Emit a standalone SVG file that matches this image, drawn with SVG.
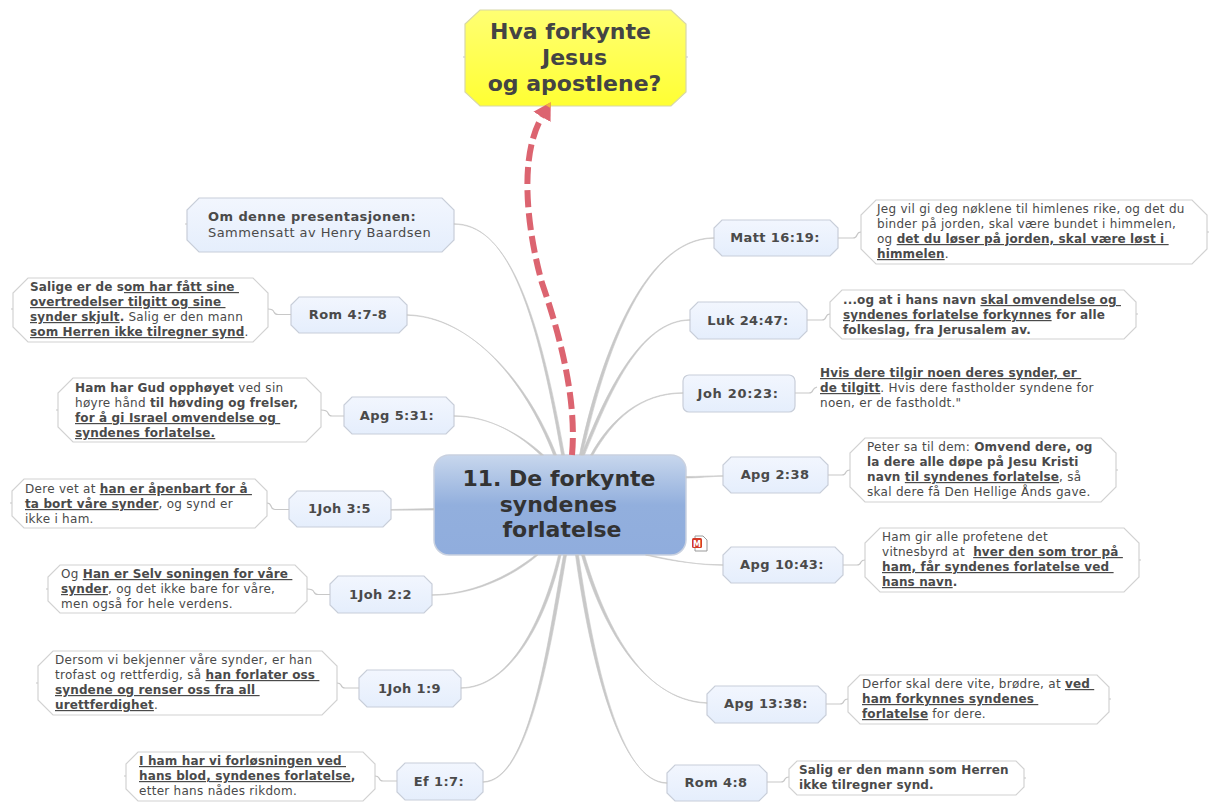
<svg xmlns="http://www.w3.org/2000/svg" width="1217" height="811" viewBox="0 0 1217 811">
<style>
text{font-family:"DejaVu Sans",Verdana,sans-serif;white-space:pre;fill:#4a4a4a}
.n{font-size:12px;letter-spacing:.28px}
.o{font-size:13px;letter-spacing:.43px}
.b{font-weight:700;letter-spacing:.13px}
.o .b{letter-spacing:.42px}
.u{font-weight:700;text-decoration:underline;letter-spacing:.13px}
.l{font-size:13px;font-weight:700;text-anchor:middle;letter-spacing:.4px}
.h{font-size:22px;font-weight:700;text-anchor:middle;fill:#333}
.y{fill:#444}
.topic{fill:url(#gt);stroke:#c8ced9;stroke-width:1.2}
.note{fill:#fff;stroke:#d2d2d2;stroke-width:1.2}
.c{fill:#c8c8c8;stroke:#c8c8c8;stroke-width:.6}
.s{fill:none;stroke:#c8c8c8;stroke-width:1.2}
</style>
<defs>
<linearGradient id="gt" x1="0" y1="0" x2="0" y2="1"><stop offset="0" stop-color="#f2f6fe"/><stop offset="1" stop-color="#e5eefc"/></linearGradient>
<linearGradient id="gc" x1="0" y1="0" x2="0" y2="1"><stop offset="0" stop-color="#c8d7ed"/><stop offset=".5" stop-color="#92afdd"/><stop offset="1" stop-color="#90addd"/></linearGradient>
<linearGradient id="gy" x1="0" y1="0" x2="0" y2="1"><stop offset="0" stop-color="#ffff73"/><stop offset="1" stop-color="#ffff33"/></linearGradient>
<marker id="ah" markerUnits="userSpaceOnUse" markerWidth="20" markerHeight="24" refX="1" refY="12" orient="auto"><polygon points="0,2 17,12 0,22" fill="#dc6470"/><polygon points="12,9.2 17,12 12,14.8" fill="#f2b23e"/></marker>
</defs>
<g id="node-title"><polygon points="480,10 671,10 686,24 686,92 671,106 480,106 465,92 465,24" fill="url(#gy)" stroke="#d8d8a8" stroke-width="1.2"/>
<path class="s" d="M463,57h2M686,57h2"/>
<text class="h y" x="570.5" y="39">Hva forkynte</text><text class="h y" x="574.5" y="65">Jesus</text><text class="h y" x="574.5" y="91">og apostlene?</text></g>
<g id="node-center"><rect x="434" y="455" width="252" height="100" rx="15" fill="url(#gc)" stroke="#c9d1e0" stroke-width="1.5"/>
<text class="h" x="559" y="486">11. De forkynte</text><text class="h" x="558.5" y="512">syndenes</text><text class="h" x="562" y="537">forlatelse</text></g>
<g id="icon"><polygon points="695,536 703,536 707,540 707,551 695,551" fill="#fff" stroke="#999"/><rect x="692" y="538" width="10" height="10" rx="1.5" fill="#d43a28"/><text x="697" y="546.5" font-size="8" font-weight="700" text-anchor="middle" style="fill:#fff">M</text></g>
<g id="node-om"><polygon class="topic" points="199,198 442,198 454,210 454,240 442,252 199,252 187,240 187,210"/><path class="s" d="M185,224h2"/>
<text class="o" x="208" y="221"><tspan class="b">Om denne presentasjonen:</tspan></text><text class="o" x="208" y="237">Sammensatt av Henry Baardsen</text></g>
<g id="node-rom478"><polygon class="topic" points="299,297 399,297 407,305 407,325 399,333 299,333 291,325 291,305"/><text class="l" x="348" y="319">Rom 4:7-8</text></g>
<g id="note-rom478"><polygon class="note" points="28,278 253,278 268,293 268,327 253,342 28,342 13,327 13,293"/><path class="s" d="M11,309h2"/>
<text class="n" x="30" y="291"><tspan class="b">Salige er de s</tspan><tspan class="u">om har fått sine </tspan></text>
<text class="n" x="30" y="306"><tspan class="u">overtredelser tilgitt og sine </tspan></text>
<text class="n" x="30" y="321"><tspan class="u">synder skjult</tspan><tspan class="b">.</tspan> Salig er den mann</text>
<text class="n" x="30" y="336"><tspan class="u">som Herren ikke tilregner synd</tspan>.</text></g>
<g id="node-apg531"><polygon class="topic" points="352,397 446,397 454,405 454,426 446,434 352,434 344,426 344,405"/><text class="l" x="397" y="420">Apg 5:31:</text></g>
<g id="note-apg531"><polygon class="note" points="73,378 306,378 321,393 321,427 306,442 73,442 58,427 58,393"/><path class="s" d="M56,410h2"/>
<text class="n" x="75" y="392"><tspan class="b">Ham har Gud opphøyet</tspan> ved sin</text>
<text class="n" x="75" y="407">høyre hånd <tspan class="b">til høvding og frelser,</tspan></text>
<text class="n" x="75" y="422"><tspan class="u">for å gi Israel omvendelse og </tspan></text>
<text class="n" x="75" y="437"><tspan class="u">syndenes forlatelse.</tspan></text></g>
<g id="node-1joh35"><polygon class="topic" points="297,491 383,491 391,499 391,519 383,527 297,527 289,519 289,499"/><text class="l" x="339.5" y="513">1Joh 3:5</text></g>
<g id="note-1joh35"><polygon class="note" points="24,479 255,479 267,491 267,516 255,528 24,528 12,516 12,491"/><path class="s" d="M10,503h2"/>
<text class="n" x="25" y="493">Dere vet at <tspan class="u">han er åpenbart for å </tspan></text>
<text class="n" x="25" y="508"><tspan class="u">ta bort våre synder</tspan>, og synd er</text>
<text class="n" x="25" y="523">ikke i ham.</text></g>
<g id="node-1joh22"><polygon class="topic" points="338,576 424,576 432,584 432,605 424,613 338,613 330,605 330,584"/><text class="l" x="380.5" y="599">1Joh 2:2</text></g>
<g id="note-1joh22"><polygon class="note" points="60,565 295,565 307,577 307,601 295,613 60,613 48,601 48,577"/><path class="s" d="M46,589h2"/>
<text class="n" x="61" y="578">Og <tspan class="u">Han er Selv soningen for våre </tspan></text>
<text class="n" x="61" y="593"><tspan class="u">synder</tspan>, og det ikke bare for våre,</text>
<text class="n" x="61" y="608">men også for hele verdens.</text></g>
<g id="node-1joh19"><polygon class="topic" points="367,670 453,670 461,678 461,699 453,707 367,707 359,699 359,678"/><text class="l" x="409.5" y="693">1Joh 1:9</text></g>
<g id="note-1joh19"><polygon class="note" points="53,651 322,651 337,666 337,700 322,715 53,715 38,700 38,666"/><path class="s" d="M36,683h2"/>
<text class="n" x="55" y="664">Dersom vi bekjenner våre synder, er han</text>
<text class="n" x="55" y="679">trofast og rettferdig, så <tspan class="u">han forlater oss </tspan></text>
<text class="n" x="55" y="694"><tspan class="u">syndene og renser oss fra all </tspan></text>
<text class="n" x="55" y="709"><tspan class="u">urettferdighet</tspan>.</text></g>
<g id="node-ef17"><polygon class="topic" points="405,763 475,763 483,771 483,792 475,800 405,800 397,792 397,771"/><text class="l" x="439" y="786">Ef 1:7:</text></g>
<g id="note-ef17"><polygon class="note" points="138,752 363,752 375,764 375,789 363,801 138,801 126,789 126,764"/><path class="s" d="M124,776h2"/>
<text class="n" x="139" y="765"><tspan class="u">I ham har vi forløsningen ved </tspan></text>
<text class="n" x="139" y="780"><tspan class="u">hans blod, syndenes forlatelse</tspan><tspan class="b">,</tspan></text>
<text class="n" x="139" y="795">etter hans nådes rikdom.</text></g>
<g id="node-matt"><polygon class="topic" points="722,220 830,220 838,228 838,248 830,256 722,256 714,248 714,228"/><text class="l" x="775" y="242">Matt 16:19:</text></g>
<g id="note-matt"><polygon class="note" points="876,200 1192,200 1207,215 1207,249 1192,264 876,264 861,249 861,215"/><path class="s" d="M1207,232h2"/>
<text class="n" x="877" y="213">Jeg vil gi deg nøklene til himlenes rike, og det du</text>
<text class="n" x="877" y="228">binder på jorden, skal være bundet i himmelen,</text>
<text class="n" x="877" y="243">og <tspan class="u">det du løser på jorden, skal være løst i </tspan></text>
<text class="n" x="877" y="258"><tspan class="u">himmelen</tspan>.</text></g>
<g id="node-luk"><polygon class="topic" points="698,302 799,302 807,310 807,331 799,339 698,339 690,331 690,310"/><text class="l" x="748" y="325">Luk 24:47:</text></g>
<g id="note-luk"><polygon class="note" points="842,290 1124,290 1136,302 1136,327 1124,339 842,339 830,327 830,302"/><path class="s" d="M1136,314h2"/>
<text class="n" x="843" y="304"><tspan class="b">...og at i hans navn </tspan><tspan class="u">skal omvendelse og </tspan></text>
<text class="n" x="843" y="319"><tspan class="u">syndenes forlatelse forkynnes</tspan><tspan class="b"> for alle</tspan></text>
<text class="n" x="843" y="334"><tspan class="b">folkeslag, fra Jerusalem av.</tspan></text></g>
<g id="node-joh"><rect class="topic" x="683" y="375" width="112" height="37" rx="6"/><text class="l" x="738" y="398" style="letter-spacing:.7px">Joh 20:23:</text></g>
<g id="note-joh"><text class="n" x="820" y="377"><tspan class="u">Hvis dere tilgir noen deres synder, er </tspan></text>
<text class="n" x="820" y="392"><tspan class="u">de tilgitt</tspan>. Hvis dere fastholder syndene for</text>
<text class="n" x="820" y="407">noen, er de fastholdt."</text></g>
<g id="node-apg238"><polygon class="topic" points="731,457 820,457 828,465 828,485 820,493 731,493 723,485 723,465"/><text class="l" x="775" y="479">Apg 2:38</text></g>
<g id="note-apg238"><polygon class="note" points="865,438 1101,438 1116,453 1116,487 1101,502 865,502 850,487 850,453"/><path class="s" d="M1116,470h2"/>
<text class="n" x="867" y="451">Peter sa til dem: <tspan class="b">Omvend dere, og</tspan></text>
<text class="n" x="867" y="466"><tspan class="b">la dere alle døpe på Jesu Kristi</tspan></text>
<text class="n" x="867" y="481"><tspan class="b">navn </tspan><tspan class="u">til syndenes forlatelse</tspan>, så</text>
<text class="n" x="867" y="496">skal dere få Den Hellige Ånds gave.</text></g>
<g id="node-apg1043"><polygon class="topic" points="731,547 835,547 843,555 843,575 835,583 731,583 723,575 723,555"/><text class="l" x="782" y="569">Apg 10:43:</text></g>
<g id="note-apg1043"><polygon class="note" points="880,528 1124,528 1139,543 1139,577 1124,592 880,592 865,577 865,543"/><path class="s" d="M1139,560h2"/>
<text class="n" x="882" y="541">Ham gir alle profetene det</text>
<text class="n" x="882" y="556">vitnesbyrd at  <tspan class="u">hver den som tror på </tspan></text>
<text class="n" x="882" y="571"><tspan class="u">ham, får syndenes forlatelse ved </tspan></text>
<text class="n" x="882" y="586"><tspan class="u">hans navn</tspan><tspan class="b">.</tspan></text></g>
<g id="node-apg1338"><polygon class="topic" points="715,686 818,686 826,694 826,715 818,723 715,723 707,715 707,694"/><text class="l" x="766" y="708">Apg 13:38:</text></g>
<g id="note-apg1338"><polygon class="note" points="860,675 1097,675 1109,687 1109,712 1097,724 860,724 848,712 848,687"/><path class="s" d="M1109,699h2"/>
<text class="n" x="862" y="688">Derfor skal dere vite, brødre, at <tspan class="u">ved </tspan></text>
<text class="n" x="862" y="703"><tspan class="u">ham forkynnes syndenes </tspan></text>
<text class="n" x="862" y="718"><tspan class="u">forlatelse</tspan> for dere.</text></g>
<g id="node-rom48"><polygon class="topic" points="675,765 759,765 767,773 767,793 759,801 675,801 667,793 667,773"/><text class="l" x="716" y="787">Rom 4:8</text></g>
<g id="note-rom48"><polygon class="note" points="797,761 1016,761 1024,769 1024,787 1016,795 797,795 789,787 789,769"/><path class="s" d="M1024,778h2"/>
<text class="n" x="799" y="774"><tspan class="b">Salig er den mann som Herren</tspan></text>
<text class="n" x="799" y="789"><tspan class="b">ikke tilregner synd.</tspan></text></g>
<g id="connectors">
<path class="c" d="M454,223.7C505,223.7 535,300 561.5,455L564.5,455C537,300 505,224.3 454,224.3Z"/>
<path class="c" d="M407,314.7C470,316 525,380 553.5,455L556.5,455C527,380 470,316.6 407,315.3Z"/>
<path class="c" d="M454,415.7C490,415.7 520,435 540.5,455L543.5,455C522,435 490,416.3 454,416.3Z"/>
<path class="c" d="M391,509.5L434,508.5L434,510L391,510.2Z"/>
<path class="c" d="M432,594.7C470,594.7 508,577 535.5,555L538,555C510,579 470,595.3 432,595.3Z"/>
<path class="c" d="M461,687.7C510,687.7 543,620 558.5,555L561,555C547,620 510,688.3 461,688.3Z"/>
<path class="c" d="M483,781.7C530,781.7 548,640 563.5,555L566.5,555C552,640 530,782.3 483,782.3Z"/>
<path class="c" d="M667,782.7C620,782.7 590,660 575.5,555L578.5,555C594,660 620,783.3 667,783.3Z"/>
<path class="c" d="M707,702.7C640,700 600,620 581.5,555L584.5,555C604,620 640,700.6 707,703.3Z"/>
<path class="c" d="M723,564.7C700,564.7 675,562 645.5,555L648.5,555C677,561 700,565.3 723,565.3Z"/>
<path class="c" d="M723,475.7C710,475.7 700,476.5 686,476.5L686,478C700,478 710,476.3 723,476.3Z"/>
<path class="c" d="M714,237.7C640,237.7 597,370 579.5,455L582.5,455C601,370 640,238.3 714,238.3Z"/>
<path class="c" d="M690,319.7C640,319.7 605,395 581.5,455L584.5,455C609,395 640,320.3 690,320.3Z"/>
<path class="c" d="M683,392.7C640,392.7 610,420 590.5,455L593,455C613,420 640,393.3 683,393.3Z"/>
<path class="s" d="M291,314.5H278Q275,314.5 274,312Q273,309 268,309"/>
<path class="s" d="M344,416H332Q329,416 328,413Q327,410 321,410"/>
<path class="s" d="M289,509.5H275Q272,509.5 271,506Q270,503 267,503"/>
<path class="s" d="M330,594.5H318Q315,594.5 314,592Q313,589 307,589"/>
<path class="s" d="M359,688H345Q342,688 341,685Q340,683 337,683"/>
<path class="s" d="M397,781H383Q380,781 379,778Q378,776 375,776"/>
<path class="s" d="M838,238H853Q856,238 857,235Q858,232 861,232"/>
<path class="s" d="M807,320H822Q825,320 826,317Q827,314 830,314"/>
<path class="s" d="M795,393H809Q812,393 813,390Q814,388 817,387"/>
<path class="s" d="M828,475H842Q845,475 846,472Q847,470 850,470"/>
<path class="s" d="M843,565H857Q860,565 861,562Q862,560 865,560"/>
<path class="s" d="M826,704H840Q843,704 844,701Q845,699 848,699"/>
<path class="s" d="M767,782H781Q784,782 785,779Q786,777 789,777"/>
<path fill="none" stroke="#dc6470" stroke-width="6" stroke-dasharray="17 6" d="M572,455C577,400 560,335 542,283C530,240 516,160 542.5,116" marker-end="url(#ah)"/>
</g>
</svg>
